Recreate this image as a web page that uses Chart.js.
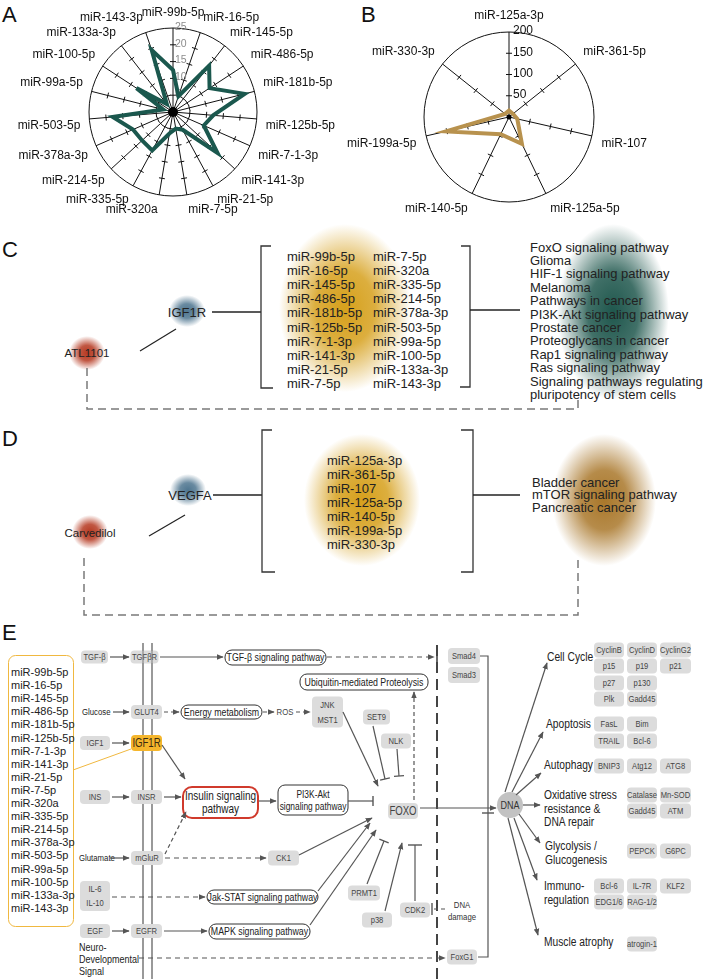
<!DOCTYPE html>
<html>
<head>
<meta charset="utf-8">
<script src="https://cdn.jsdelivr.net/npm/chart.js@4.4.0/dist/chart.umd.min.js"></script>
<style>
  html, body { margin: 0; padding: 0; background: #fff; }
  #page { position: relative; width: 709px; height: 979px; overflow: hidden; font-family: "Liberation Sans", Arial, sans-serif; }
  #page svg, #page canvas { position: absolute; top: 0; }
  #radarA { left: 0; }
  #radarB { left: 330px; }
</style>
</head>
<body>
<div id="page">
  <svg id="diagram" width="709" height="979" font-family='"Liberation Sans", Arial, sans-serif'></svg>
  <canvas id="radarA" width="350" height="232"></canvas>
  <canvas id="radarB" width="379" height="240"></canvas>
</div>
<script>
// panel A: IGF1R-targeting miRNAs
const mirLabelsA = ['miR-99b-5p', 'miR-16-5p', 'miR-145-5p', 'miR-486-5p', 'miR-181b-5p', 'miR-125b-5p',
  'miR-7-1-3p', 'miR-141-3p', 'miR-21-5p', 'miR-7-5p', 'miR-320a', 'miR-335-5p', 'miR-214-5p',
  'miR-378a-3p', 'miR-503-5p', 'miR-99a-5p', 'miR-100-5p', 'miR-133a-3p', 'miR-143-3p']
const mirValuesA = [12.5, 5, 17.5, 13, 22, 12, 10, 18, 6, 5, 6.5, 13, 12.5, 13, 18, 3, 13, 3, 19.5]
const ticksA = [5, 10, 15, 20, 25]

// panel B: VEGFA-targeting miRNAs
const mirLabelsB = ['miR-125a-3p', 'miR-361-5p', 'miR-107', 'miR-125a-5p', 'miR-140-5p', 'miR-199a-5p', 'miR-330-3p']
const mirValuesB = [15, 12, 20, 70, 45, 152, 12]
const ticksB = [50, 100, 150, 200]

// panels C / D
const mirColC1 = ['miR-99b-5p', 'miR-16-5p', 'miR-145-5p', 'miR-486-5p', 'miR-181b-5p',
  'miR-125b-5p', 'miR-7-1-3p', 'miR-141-3p', 'miR-21-5p', 'miR-7-5p']
const mirColC2 = ['miR-7-5p', 'miR-320a', 'miR-335-5p', 'miR-214-5p', 'miR-378a-3p',
  'miR-503-5p', 'miR-99a-5p', 'miR-100-5p', 'miR-133a-3p', 'miR-143-3p']
const pathwaysC = ['FoxO signaling pathway', 'Glioma', 'HIF-1 signaling pathway', 'Melanoma',
  'Pathways in cancer', 'PI3K-Akt signaling pathway', 'Prostate cancer', 'Proteoglycans in cancer',
  'Rap1 signaling pathway', 'Ras signaling pathway', 'Signaling pathways regulating',
  'pluripotency of stem cells']
const pathwaysD = ['Bladder cancer', 'mTOR signaling pathway', 'Pancreatic cancer']

const FONT = '"Liberation Sans", Arial, sans-serif'

// spoke ticks, tick labels, point labels, centre dot
const radarDeco = {
  id: 'radarDeco',
  beforeDatasetsDraw(chart, args, o) {
    const s = chart.scales.r
    const ctx = chart.ctx
    const n = chart.data.labels.length
    ctx.save()
    ctx.strokeStyle = '#111'
    ctx.lineWidth = 1
    o.ticks.forEach((v) => {
      if (v >= s.max) return
      for (let i = 0; i < n; i++) {
        const p = s.getPointPositionForValue(i, v)
        const a = s.getIndexAngle(i) - Math.PI / 2
        const px = -Math.sin(a) * 3, py = Math.cos(a) * 3
        ctx.beginPath()
        ctx.moveTo(p.x - px, p.y - py)
        ctx.lineTo(p.x + px, p.y + py)
        ctx.stroke()
      }
    })
    ctx.fillStyle = o.tickColor
    ctx.font = o.tickFont
    ctx.textAlign = 'left'
    ctx.textBaseline = 'middle'
    o.ticks.forEach((v) => {
      const p = s.getPointPositionForValue(0, v)
      ctx.fillText(String(v), p.x + o.tickDx, p.y - 1)
    })
    // point labels
    ctx.fillStyle = '#111'
    ctx.font = '12px ' + FONT
    chart.data.labels.forEach((lab, i) => {
      const ang = s.getIndexAngle(i)
      const deg = Math.round((ang * 180) / Math.PI) % 360
      const p = s.getPointPosition(i, s.drawingArea + o.labelPad)
      ctx.textAlign = deg === 0 || deg === 180 ? 'center' : deg < 180 ? 'left' : 'right'
      ctx.textBaseline = deg === 90 || deg === 270 ? 'middle' : deg < 90 || deg > 270 ? 'bottom' : 'top'
      ctx.fillText(lab, p.x, p.y)
    })
    ctx.restore()
  },
  afterDatasetsDraw(chart, args, o) {
    const s = chart.scales.r
    const ctx = chart.ctx
    ctx.save()
    ctx.fillStyle = '#000'
    ctx.beginPath()
    ctx.arc(s.xCenter, s.yCenter, o.dot, 0, Math.PI * 2)
    ctx.fill()
    ctx.restore()
  },
}

function radar(canvas, labels, values, color, max, step, padding, deco) {
  return new Chart(canvas, {
    type: 'radar',
    data: {
      labels,
      datasets: [{
        data: values,
        borderColor: color,
        borderWidth: 4,
        borderJoinStyle: 'miter',
        fill: false,
        pointRadius: 0,
        tension: 0,
      }],
    },
    options: {
      responsive: false,
      animation: false,
      layout: { padding },
      plugins: { legend: { display: false }, tooltip: { enabled: false }, radarDeco: deco },
      scales: {
        r: {
          min: 0,
          max,
          ticks: { display: false, stepSize: step },
          pointLabels: { display: false },
          grid: {
            circular: true,
            color: (c) => (c.tick && c.tick.value === max ? '#111' : 'rgba(0,0,0,0)'),
            lineWidth: 1,
          },
          angleLines: { color: '#111', lineWidth: 1 },
        },
      },
    },
    plugins: [radarDeco],
  })
}

radar(document.getElementById('radarA'), mirLabelsA, mirValuesA, '#1b584e', 25, 5,
  { left: 89, right: 93, top: 28, bottom: 36 },
  { ticks: ticksA, tickColor: '#8c8c8c', tickFont: '10.5px ' + FONT, tickDx: 2, labelPad: 9, dot: 5 })

radar(document.getElementById('radarB'), mirLabelsB, mirValuesB, '#b8924e', 200, 50,
  { left: 94, right: 115, top: 32, bottom: 38 },
  { ticks: ticksB, tickColor: '#111', tickFont: '12px ' + FONT, tickDx: 4, labelPad: 10, dot: 2.5 })

// ---------- diagram (panels C, D, E) ----------
const parts = []
const P = (s) => parts.push(s)

function txt(x, y, s, size, o = {}) {
  const a = o.anchor || 'start'
  const sx = o.sx || 1
  P(`<text transform="translate(${x} ${y}) scale(${sx} 1)" font-size="${size}" text-anchor="${a}" dominant-baseline="central" fill="${o.fill || '#222'}">${s}</text>`)
}
function ln(x1, y1, x2, y2, o = {}) {
  P(`<line x1="${x1}" y1="${y1}" x2="${x2}" y2="${y2}" stroke="${o.c || '#555'}" stroke-width="${o.w || 1.2}"` +
    (o.dash ? ` stroke-dasharray="${o.dash}"` : '') + (o.arrow ? ' marker-end="url(#ah)"' : '') + '/>')
}
function poly(pts, o = {}) {
  P(`<polyline points="${pts.join(' ')}" fill="none" stroke="${o.c || '#333'}" stroke-width="${o.w || 1.3}"` +
    (o.dash ? ` stroke-dasharray="${o.dash}"` : '') + '/>')
}
function inh(x1, y1, x2, y2, o = {}) {
  ln(x1, y1, x2, y2, o)
  const dx = x2 - x1, dy = y2 - y1, L = Math.hypot(dx, dy)
  const px = (-dy / L) * 5, py = (dx / L) * 5
  ln(x2 - px, y2 - py, x2 + px, y2 + py, { w: 1.4 })
}
function box(cx, cy, w, h, lines, size, o = {}) {
  P(`<rect x="${cx - w / 2}" y="${cy - h / 2}" width="${w}" height="${h}" rx="${o.rx || 4}" fill="${o.fill || '#dcdcdc'}"` +
    (o.stroke ? ` stroke="${o.stroke}" stroke-width="${o.sw || 1}"` : '') + '/>')
  const lh = o.lh || size * 1.2
  lines.forEach((s, i) =>
    txt(cx, cy + (i - (lines.length - 1) / 2) * lh, s, size, { anchor: 'middle', sx: o.sx || 0.8, fill: o.tc || '#444' }))
}
function pill(x1, y1, x2, y2, lines, size, o = {}) {
  box((x1 + x2) / 2, (y1 + y2) / 2, x2 - x1, y2 - y1, lines, size,
    Object.assign({ fill: '#fff', stroke: '#333', sw: 1, tc: '#222', rx: 7 }, o))
}
function blob(cx, cy, rx, ry, id) {
  P(`<ellipse cx="${cx}" cy="${cy}" rx="${rx}" ry="${ry}" fill="url(#${id})"/>`)
}

const grad = (id, c) =>
  `<radialGradient id="${id}"><stop offset="0" stop-color="${c}" stop-opacity="1"/>` +
  `<stop offset="0.45" stop-color="${c}" stop-opacity="0.85"/><stop offset="1" stop-color="${c}" stop-opacity="0"/></radialGradient>`
P('<defs>' +
  '<marker id="ah" viewBox="0 0 10 10" refX="9" refY="5" markerWidth="7" markerHeight="7" markerUnits="userSpaceOnUse" orient="auto">' +
  '<path d="M0,1 L10,5 L0,9 z" fill="#555"/></marker>' +
  grad('gY', '#d6a01c') + grad('gT', '#1f574d') + grad('gR', '#b63a22') + grad('gB', '#4f7690') + grad('gO', '#a9772a') +
  '</defs>')

// panel letters
txt(2, 14, 'A', 22, { fill: '#111' })
txt(361, 14, 'B', 22, { fill: '#111' })
txt(2, 249, 'C', 22, { fill: '#111' })
txt(2, 438, 'D', 22, { fill: '#111' })
txt(2, 632, 'E', 22, { fill: '#111' })

// ----- panel C -----
blob(345, 308, 66, 84, 'gY')
blob(613, 312, 56, 88, 'gT')
blob(87, 353, 18, 17, 'gR')
blob(187, 311, 18, 16, 'gB')
txt(87, 353, 'ATL1101', 11.5, { anchor: 'middle' })
txt(187, 312, 'IGF1R', 13, { anchor: 'middle' })
ln(140, 351, 176, 329, { c: '#222', w: 1.2 })
ln(212, 312, 261, 312, { c: '#222', w: 1.3 })
poly([[271, 246], [261, 246], [261, 388], [273, 388]])
poly([[461, 246], [470, 246], [470, 387], [460, 387]])
ln(470, 310, 520, 310, { c: '#222', w: 1.3 })
mirColC1.forEach((s, i) => txt(287, 256 + i * 14.2, s, 13))
mirColC2.forEach((s, i) => txt(373, 256 + i * 14.2, s, 13))
pathwaysC.forEach((s, i) => txt(530, 247 + i * 13.4, s, 13))
poly([[87, 368], [87, 409], [578, 409], [578, 398]], { c: '#7a7a7a', w: 1.5, dash: '8 5' })

// ----- panel D -----
blob(362, 500, 58, 66, 'gY')
blob(604, 500, 52, 66, 'gO')
blob(90, 532, 18, 17, 'gR')
blob(188, 490, 18, 16, 'gB')
txt(90, 533, 'Carvedilol', 11.5, { anchor: 'middle' })
txt(190, 495, 'VEGFA', 13, { anchor: 'middle' })
ln(149, 536, 185, 515, { c: '#222', w: 1.2 })
ln(213, 495, 262, 495, { c: '#222', w: 1.3 })
poly([[272, 430], [262, 430], [262, 572], [275, 572]])
poly([[461, 430], [473, 430], [473, 572], [461, 572]])
ln(473, 495, 520, 495, { c: '#222', w: 1.3 })
mirLabelsB.forEach((s, i) => txt(327, 460 + i * 14.1, s, 13))
pathwaysD.forEach((s, i) => txt(532, 482 + i * 12.6, s, 13))
poly([[84, 558], [84, 615], [578, 615], [578, 558]], { c: '#7a7a7a', w: 1.5, dash: '8 5' })

// ----- panel E -----
const N = 0.82
// membranes
ln(143, 643, 143, 979, { c: '#555', w: 1.2 })
ln(152, 643, 152, 979, { c: '#555', w: 1.2 })
ln(437, 645, 437, 979, { c: '#444', w: 2, dash: '11 6' })

// miRNA list
P('<rect x="8.5" y="655.5" width="65" height="271" rx="7" fill="none" stroke="#f0b840" stroke-width="1"/>')
mirLabelsA.forEach((s, i) => txt(11, 672 + i * 13.1, s, 11))
ln(131, 749, 73, 770, { c: '#f0b840', w: 1 })

// top row: TGF-beta
box(94.5, 657, 27, 13, ['TGF-β'], 9.5)
ln(110, 657, 129, 657, { arrow: true })
box(144.5, 657, 28, 13, ['TGFβR'], 9.5)
ln(143, 650, 143, 664, { c: '#777', w: 1 })
ln(152, 650, 152, 664, { c: '#777', w: 1 })
ln(160, 657, 223, 657, { arrow: true })
pill(225, 650, 326, 665, ['TGF-β signaling pathway'], 11)
ln(327, 657, 434, 657, { dash: '5 4', arrow: true })
ln(437, 650, 437, 664, { c: '#444', w: 1.6 })
box(464, 656, 32, 16, ['Smad4'], 9.5)
box(464, 675, 32, 16, ['Smad3'], 9.5)
poly([[480, 656], [488, 656], [488, 957], [478, 957]], { c: '#555', w: 1.2 })
ln(482, 813, 494, 813, { c: '#555', w: 1.4 })
pill(300, 674, 428, 690, ['Ubiquitin-mediated Proteolysis'], 11)

// glucose row
txt(82, 712, 'Glucose', 9.5, { sx: N })
ln(113, 712, 129, 712, { arrow: true })
box(146.5, 712, 31, 14, ['GLUT4'], 9.5)
ln(164, 712, 179, 712, { dash: '4 3', arrow: true })
pill(181, 705, 262, 719, ['Energy metabolism'], 11)
ln(263, 712, 274, 712, { dash: '4 3', arrow: true })
txt(285, 712, 'ROS', 9.5, { anchor: 'middle', sx: N, fill: '#444' })
ln(296, 712, 310, 712, { dash: '4 3', arrow: true })
box(327.5, 712, 31, 31, ['JNK', 'MST1'], 9.5, { lh: 15 })
box(376.5, 717, 27, 15, ['SET9'], 9.5)
box(396, 741, 30, 15, ['NLK'], 9.5)
ln(343, 712, 378, 786, { arrow: true })
inh(373, 726, 385, 779)
inh(397, 749, 399, 776)
ln(414, 800, 414, 692, { dash: '4 3', arrow: true })

// IGF1 row
box(95, 743, 30, 14, ['IGF1'], 9.5)
ln(112, 743, 129, 743, { arrow: true })
box(146.5, 743, 31, 16, ['IGF1R'], 12, { fill: '#f5b62c', tc: '#3a2a10' })
ln(162, 745, 185, 779, { arrow: true })

// insulin row
box(95, 797, 30, 14, ['INS'], 9.5)
ln(112, 797, 129, 797, { arrow: true })
box(146.5, 797, 31, 14, ['INSR'], 9.5)
ln(164, 797, 181, 797, { arrow: true })
pill(183, 787, 258, 818, ['Insulin signaling', 'pathway'], 12.5, { stroke: '#d03a2c', sw: 2, rx: 9, lh: 13 })
ln(259, 801, 276, 801, { arrow: true })
pill(278, 785, 348, 815, ['PI3K-Akt', 'signaling pathway'], 10.5, { lh: 12 })
inh(348, 801, 373, 801)
box(403, 811, 30, 16, ['FOXO'], 12)
ln(420, 808, 496, 808, { arrow: true })

// glutamate row
txt(79, 858, 'Glutamate', 9.5, { sx: N })
ln(110, 858, 129, 858, { arrow: true })
box(147, 858, 32, 14, ['mGluR'], 9.5)
ln(165, 854, 186, 812, { dash: '4 3', arrow: true })
ln(165, 858, 266, 858, { dash: '5 4', arrow: true })
box(283.5, 858, 31, 15, ['CK1'], 9.5)
ln(299, 855, 372, 818, { arrow: true })

// IL row
box(95, 896, 30, 30, ['IL-6', 'IL-10'], 9.5, { lh: 14 })
ln(112, 897, 205, 897, { dash: '5 4', arrow: true })
pill(207, 890, 318, 904, ['Jak-STAT signaling pathway'], 11)
ln(318, 891, 370, 823, { arrow: true })

// EGF row
box(95, 931, 30, 14, ['EGF'], 9.5)
ln(112, 931, 129, 931, { arrow: true })
box(146.5, 931, 31, 14, ['EGFR'], 9.5)
ln(164, 931, 207, 931, { arrow: true })
pill(209, 924, 310, 939, ['MAPK signaling pathway'], 11)
ln(310, 925, 376, 830, { arrow: true })
;['Neuro-', 'Developmental', 'Signal'].forEach((s, i) => txt(79, 947 + i * 12, s, 11, { sx: N }))
ln(139, 958, 445, 958, { dash: '5 4', arrow: true })
box(462, 957, 30, 15, ['FoxG1'], 9.5)

// FOXO regulators
box(364, 893, 32, 15, ['PRMT1'], 9.5)
inh(367, 884, 384, 841)
box(377, 920, 30, 15, ['p38'], 9.5)
ln(385, 911, 402, 843, { arrow: true })
box(415, 910, 30, 15, ['CDK2'], 9.5)
ln(415, 901, 415, 845)
ln(408, 845, 422, 845, { w: 1.4 })
ln(445, 909, 432, 909, { dash: '4 3' })
ln(432, 903, 432, 915, { w: 1.4 })
txt(462, 905, 'DNA', 9.5, { anchor: 'middle', sx: N, fill: '#333' })
txt(462, 917, 'damage', 9.5, { anchor: 'middle', sx: N, fill: '#333' })

// nucleus outputs
P('<circle cx="510" cy="805" r="13" fill="#c2c2c2"/>')
txt(510, 805, 'DNA', 11, { anchor: 'middle', sx: N, fill: '#333' })
ln(505, 792, 547, 663, { arrow: true })
ln(512, 792, 543, 732, { arrow: true })
ln(516, 795, 541, 773, { arrow: true })
ln(523, 805, 540, 805, { arrow: true })
ln(519, 814, 540, 843, { arrow: true })
ln(514, 818, 537, 880, { arrow: true })
ln(508, 818, 538, 935, { arrow: true })

const cat = (x, y, lines) => lines.forEach((s, i) => txt(x, y + i * 13.3, s, 12.5, { sx: N }))
cat(547, 657, ['Cell Cycle'])
cat(546, 724, ['Apoptosis'])
cat(544, 765, ['Autophagy'])
cat(544, 795, ['Oxidative stress', 'resistance &amp;', 'DNA repair'])
cat(545, 846, ['Glycolysis /', 'Glucogenesis'])
cat(544, 886, ['Immuno-', 'regulation'])
cat(544, 942, ['Muscle atrophy'])

const col = [609, 642, 675.5]
const g = (c, y, s) => box(col[c], y, c === 2 ? 31 : 30, 15, [s], 9.5)
g(0, 650, 'CyclinB'); g(1, 650, 'CyclinD'); g(2, 650, 'CyclinG2')
g(0, 666, 'p15'); g(1, 666, 'p19'); g(2, 666, 'p21')
g(0, 683, 'p27'); g(1, 683, 'p130')
g(0, 699, 'Plk'); g(1, 699, 'Gadd45')
g(0, 724, 'FasL'); g(1, 724, 'Bim')
g(0, 741, 'TRAIL'); g(1, 741, 'Bcl-6')
g(0, 766, 'BNIP3'); g(1, 766, 'Atg12'); g(2, 766, 'ATG8')
g(1, 795, 'Catalase'); g(2, 795, 'Mn-SOD')
g(1, 811, 'Gadd45'); g(2, 811, 'ATM')
g(1, 851, 'PEPCK'); g(2, 851, 'G6PC')
g(0, 886, 'Bcl-6'); g(1, 886, 'IL-7R'); g(2, 886, 'KLF2')
g(0, 902, 'EDG1/6'); g(1, 902, 'RAG-1/2')
g(1, 944, 'atrogin-1')

document.getElementById('diagram').innerHTML = parts.join('\n')
</script>
</body>
</html>
